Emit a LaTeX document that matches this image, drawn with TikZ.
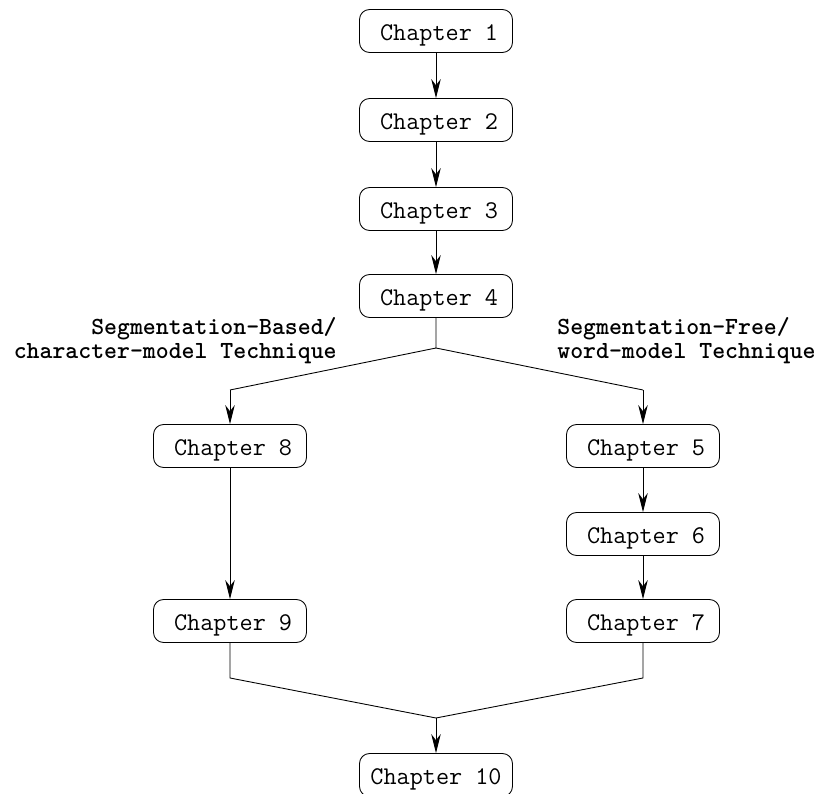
\documentclass[tikz,border=0pt]{standalone}
\usepackage{fontspec}
\usetikzlibrary{arrows.meta}

\newcommand{\chaptxt}[1]{\raisebox{-2.5pt}[\height][\depth]{#1}}

\tikzset{
  chap/.style={draw, rounded corners=0.2cm, minimum width=3.06cm, minimum height=0.86cm,
    inner sep=0pt, font=\ttfamily\fontsize{14.5}{16}\selectfont, line width=0.5pt},
  lbl/.style={font=\ttfamily\bfseries\fontsize{14}{13.5}\selectfont, inner sep=0pt},
  link/.style={line width=0.5pt},
  flow/.style={line width=0.5pt, -{Stealth[length=0.38cm,width=0.19cm]}}
}

\begin{document}
\begin{tikzpicture}[x=0.02cm,y=-0.02cm]

    \useasboundingbox (0,0) rectangle (819,794);

    \node[chap] (c1) at (436,31) {\hspace{3.5pt}\chaptxt{Chapter 1}};
    \node[chap] (c2) at (436,120) {\hspace{3.5pt}\chaptxt{Chapter 2}};
    \node[chap] (c3) at (436,209) {\hspace{3.5pt}\chaptxt{Chapter 3}};
    \node[chap] (c4) at (436,296) {\hspace{3.5pt}\chaptxt{Chapter 4}};

    \node[chap] (c8) at (230,446) {\hspace{3.5pt}\chaptxt{Chapter 8}};
    \node[chap] (c9) at (230,621) {\hspace{3.5pt}\chaptxt{Chapter 9}};

    \node[chap] (c5) at (643,446) {\hspace{3.5pt}\chaptxt{Chapter 5}};
    \node[chap] (c6) at (643,534) {\hspace{3.5pt}\chaptxt{Chapter 6}};
    \node[chap] (c7) at (643,621) {\hspace{3.5pt}\chaptxt{Chapter 7}};

    \node[chap] (c10) at (436,775) {\chaptxt{Chapter 10}};

    \node[lbl, anchor=east, align=right] (segbased) at (337,341)
        {Segmentation-Based/\\character-model Technique};
    \node[lbl, anchor=west, align=left] (segfree) at (557,341)
        {Segmentation-Free/\\word-model Technique};

    \coordinate (split) at (436,348);
    \coordinate (lsplit) at (230,390);
    \coordinate (rsplit) at (643,390);
    \coordinate (lmerge) at (230,678);
    \coordinate (rmerge) at (643,678);
    \coordinate (merge) at (436,718);

    \draw[flow] (c1) -- (c2);
    \draw[flow] (c2) -- (c3);
    \draw[flow] (c3) -- (c4);

    \draw[link] (c4) -- (split) -- (lsplit);
    \draw[link] (split) -- (rsplit);
    \draw[flow] (lsplit) -- (c8);
    \draw[flow] (rsplit) -- (c5);

    \draw[flow] (c8) -- (c9);
    \draw[flow] (c5) -- (c6);
    \draw[flow] (c6) -- (c7);

    \draw[link] (c9) -- (lmerge) -- (merge);
    \draw[link] (c7) -- (rmerge) -- (merge);
    \draw[flow] (merge) -- (c10);

\end{tikzpicture}
\end{document}
